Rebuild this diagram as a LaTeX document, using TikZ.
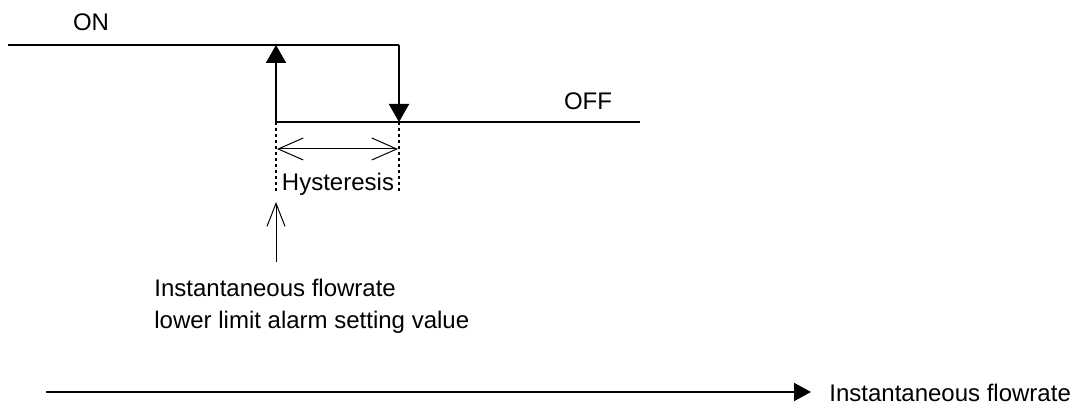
\documentclass[tikz,border=0pt]{standalone}
\usepackage{fontspec}
\setmainfont{Liberation Sans}
\usetikzlibrary{arrows.meta,positioning}
\tikzstyle{Label} = [inner sep=0pt, font=\fontsize{12}{16}\selectfont]
\tikzstyle{Level} = [line width=1pt]
\tikzstyle{Switch} = [line width=1pt, -{Triangle[length=9pt,width=10pt]}]
\tikzstyle{Guide} = [line width=0.6pt, dash pattern=on 1.5pt off 1.5pt]
\tikzstyle{Thin} = [line width=0.5pt]

\begin{document}
\begin{tikzpicture}[x=0.5pt,y=-0.5pt]
    \useasboundingbox (0,0) rectangle (1082,410);
    % switching curve
    \coordinate (start) at (8,45);
    \coordinate (onpt)  at (276,45);
    \coordinate (offtop) at (399,45);
    \coordinate (low)   at (276,122);
    \coordinate (offpt) at (399,122);
    \coordinate (stop)  at (640,122);
    \draw[Level] (start) -- (offtop);
    \draw[Level] (low) -- (stop);
    \draw[Switch] (low) -- (onpt);
    \draw[Switch] (offtop) -- (offpt);
    \node[Label] (on)  at (91,22)  {ON};
    \node[Label] (off) at (588,101) {OFF};
    % hysteresis band
    \coordinate (lowguide) at (276,194);
    \coordinate (offguide) at (399,194);
    \draw[Guide] (low) -- (lowguide);
    \draw[Guide] (offpt) -- (offguide);
    \coordinate (hl) at (277,149);
    \coordinate (hr) at (398,149);
    \draw[Thin, {Straight Barb[length=12.5pt,width=11pt]}-{Straight Barb[length=12.5pt,width=11pt]}] (hl) -- (hr);
    \node[Label] (hyst) at (338,184) {Hysteresis};
    % setting value
    \coordinate (settail) at (276,262);
    \coordinate (sethead) at (276,202);
    \draw[Thin, -{Straight Barb[length=11.5pt,width=9pt]}] (settail) -- (sethead);
    \node[Label, anchor=west, align=left] (setting) at (154,306)
        {Instantaneous flowrate\\lower limit alarm setting value};
    % flow axis
    \coordinate (axstart) at (46,392);
    \coordinate (axend)   at (811,392);
    \draw[Level, -{Triangle[length=8.5pt,width=9pt]}] (axstart) -- (axend);
    \node[Label, anchor=west] (axis) at (829,393) {Instantaneous flowrate};
\end{tikzpicture}
\end{document}
